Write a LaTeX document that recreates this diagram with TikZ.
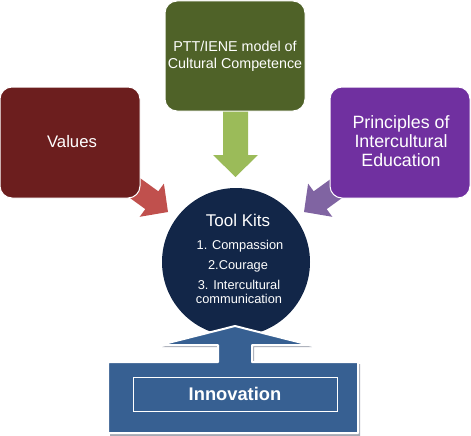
\documentclass[tikz,border=0pt]{standalone}
\usepackage{fontspec}
\setmainfont{Liberation Sans}
\definecolor{valred}{RGB}{108,30,30}
\definecolor{pttgreen}{RGB}{79,98,40}
\definecolor{prinpurple}{RGB}{112,48,160}
\definecolor{arrgreen}{RGB}{155,187,89}
\definecolor{arrred}{RGB}{192,80,77}
\definecolor{arrpurple}{RGB}{128,100,162}
\definecolor{navy}{RGB}{18,38,72}
\definecolor{innoblue}{RGB}{55,96,146}
\definecolor{shadowgray}{RGB}{165,170,180}
\begin{document}
\begin{tikzpicture}[x=1pt,y=-1pt,
  topbox/.style={draw=white, line width=1pt, rounded corners=12pt, minimum width=140pt, inner sep=0pt},
  boxtext/.style={text=white, anchor=base, inner sep=0pt},
  listtext/.style={text=white, anchor=base, inner sep=0pt, font=\fontsize{12.8}{14}\selectfont}
]
\useasboundingbox (0,0) rectangle (471,436);

% block arrows (drawn first, tails hidden under boxes)
\fill[arrgreen] (223,100) -- (223,155) -- (213,155) -- (235.5,177) -- (258,155) -- (248,155) -- (248,100) -- cycle;
\fill[arrred] (121,191.5) -- (145.3,209.1) -- (139.7,216.8) -- (168,212) -- (163.9,183.6) -- (158.3,191.3) -- (134,173.7) -- cycle;
\fill[arrpurple] (351,191.5) -- (326.7,209.1) -- (332.3,216.8) -- (304,212) -- (308.1,183.6) -- (313.7,191.3) -- (338,173.7) -- cycle;

% top boxes
\node[topbox, fill=valred, minimum height=111pt] (values) at (70,142.5) {};
\node[topbox, fill=pttgreen, minimum height=110pt] (ptt) at (235,56) {};
\node[topbox, fill=prinpurple, minimum height=111pt] (principles) at (400,142.5) {};

\node[boxtext, font=\fontsize{16.7}{18}\selectfont] (valuestext) at (72,147) {Values};
\node[boxtext, font=\fontsize{14.3}{14}\selectfont] (ptt1) at (235,52) {PTT/IENE model of};
\node[boxtext, font=\fontsize{14.3}{14}\selectfont] (ptt2) at (235,69) {Cultural Competence};
\node[boxtext, font=\fontsize{17.8}{19}\selectfont] (pr1) at (401,128) {Principles of};
\node[boxtext, font=\fontsize{17.8}{19}\selectfont] (pr2) at (401,147) {Intercultural};
\node[boxtext, font=\fontsize{17.8}{19}\selectfont] (pr3) at (401,166) {Education};

% central circle
\node[circle, fill=navy, minimum size=148pt, inner sep=0pt] (toolkit) at (236,262) {};
\node[boxtext, font=\fontsize{17}{19}\selectfont] (tk) at (238,226) {Tool Kits};
\node[listtext] (l1) at (240,249) {1. Compassion};
\node[listtext] (l2) at (238,269) {2.Courage};
\node[listtext] (l3) at (239,289) {3. Intercultural};
\node[listtext] (l4) at (239,303) {communication};

% innovation block with up arrow
\fill[shadowgray] (110,364) -- (220,364) -- (220,347) -- (162,347) -- (237,328) -- (312,347) -- (254,347) -- (254,364) -- (360,364) -- (360,436) -- (110,436) -- cycle;
\filldraw[fill=innoblue, draw=white, line width=2pt, line join=round]
  (108,362) -- (218,362) -- (218,345) -- (160,345) -- (235,326) -- (310,345) -- (252,345) -- (252,362) -- (358,362) -- (358,433) -- (108,433) -- cycle;
\node[draw=white, line width=1pt, minimum width=204pt, minimum height=34pt, inner sep=0pt] (innov) at (235,394) {};
\node[boxtext, font=\fontsize{18.3}{20}\selectfont\bfseries] (innovtext) at (235,400) {Innovation};
\end{tikzpicture}
\end{document}
